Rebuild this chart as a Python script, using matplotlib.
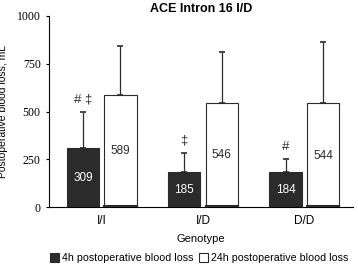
import numpy as np
import matplotlib.pyplot as plt

genotypes = ["I/I", "I/D", "D/D"]
loss_4h = [309, 185, 184]
sd_4h = [190, 100, 68]
loss_24h = [589, 546, 544]
sd_24h = [256, 265, 322]
marks = ["# \u2021", "\u2021", "#"]

plt.rcParams['font.family'] = ['Liberation Sans', 'DejaVu Sans']

fig = plt.figure(figsize=(3.58, 2.65), dpi=100)
ax = fig.add_axes([49/358, 1 - 207/265, 304/358, 191/265])

x = np.arange(len(genotypes))
w = 0.32
gap = 0.05
x4 = x - w/2 - gap/2
x24 = x + w/2 + gap/2

ax.bar(x4, loss_4h, w, color='#2b2b2b', edgecolor='#2b2b2b', linewidth=0.8,
       label='4h postoperative blood loss', zorder=2)
ax.bar(x24, loss_24h, w, color='white', edgecolor='#2b2b2b', linewidth=0.8,
       label='24h postoperative blood loss', zorder=2)
ax.errorbar(x4, loss_4h, yerr=[np.zeros(3), sd_4h], fmt='none', ecolor='#2b2b2b',
            elinewidth=0.9, capsize=2, capthick=1.2, zorder=1)
ax.errorbar(x24, loss_24h, yerr=[np.zeros(3), sd_24h], fmt='none', ecolor='#2b2b2b',
            elinewidth=0.9, capsize=2, capthick=1.2, zorder=1)
for xi in x24:
    ax.plot([xi - w/2, xi + w/2], [4, 4], color='#2b2b2b', linewidth=1.5, zorder=3)

for i in range(3):
    ax.text(x4[i], loss_4h[i] / 2 - 4, str(loss_4h[i]), color='white',
            ha='center', va='center', fontsize=8.5, zorder=4)
    ax.text(x24[i], loss_24h[i] / 2 - 3, str(loss_24h[i]), color='#2b2b2b',
            ha='center', va='center', fontsize=8.5, zorder=4)
    ax.text(x4[i], loss_4h[i] + sd_4h[i] + 62, marks[i], color='#2b2b2b',
            ha='center', va='center', fontsize=9.5, zorder=4)

ax.set_xlim(-0.52, 2.48)
ax.set_ylim(0, 1000)
ax.set_yticks([0, 250, 500, 750, 1000])
ax.set_xticks(x)
ax.set_xticklabels(genotypes, fontsize=8.5)
for lbl in ax.get_yticklabels():
    lbl.set_fontfamily('Liberation Serif')
    lbl.set_fontsize(8.5)
ax.tick_params(axis='x', length=0, pad=6)
ax.tick_params(axis='y', length=2.5, width=0.8, pad=3.5)
ax.spines['top'].set_visible(False)
ax.spines['right'].set_visible(False)
ax.spines['left'].set_linewidth(0.8)
ax.spines['bottom'].set_linewidth(0.8)

ax.set_xlabel('Genotype', fontsize=8, labelpad=5)
ax.set_ylabel('Postoperative blood loss, mL', fontsize=7.5, labelpad=6)
ax.set_title('ACE Intron 16 I/D', fontsize=9, fontweight='bold', pad=3)

fig.legend(loc='center', bbox_to_anchor=(199/358, 1 - 258/265), ncol=2, frameon=False,
           fontsize=7.7, handlelength=0.85, handleheight=0.85, handletextpad=0.25,
           columnspacing=0.5, borderaxespad=0.0, borderpad=0.0)

fig.savefig('out.png', dpi=100)
